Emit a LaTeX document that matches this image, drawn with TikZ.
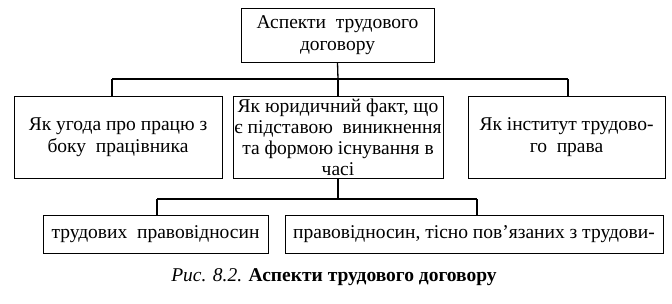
\documentclass[tikz,border=0pt]{standalone}
\usepackage{fontspec}
\setmainfont{Liberation Serif}
\usetikzlibrary{shadows}
\tikzset{
  box/.style={draw, fill=white, line width=0.9pt, inner sep=0pt, align=center,
    font=\fontsize{19.5}{22}\selectfont,
    drop shadow={shadow xshift=1.4pt, shadow yshift=-1.4pt, fill=black, opacity=1}},
  conn/.style={line width=1.3pt},
  bar/.style={line width=1.8pt}
}
\begin{document}
\begin{tikzpicture}[x=1pt,y=1pt]
\useasboundingbox (0,0) rectangle (672,-303);
\node[box, minimum width=193, minimum height=54] (top) at (337.5,-35) {Аспекти\enspace трудового\\договору};
\node[box, minimum width=208, minimum height=82] (left) at (118,-137) {Як угода про працю з\\боку\enspace працівника};
\node[box, minimum width=210, minimum height=82, font=\fontsize{19.5}{21}\selectfont] (mid) at (338,-137) {Як юридичний факт, що\\є підставою\enspace виникнення\\та формою існування в\\часі};
\node[box, minimum width=197, minimum height=82] (right) at (566.5,-137) {Як інститут трудово-\\го\enspace права};
\node[box, minimum width=225, minimum height=38] (bl) at (155.5,-234) {трудових\enspace правовідносин};
\node[box, minimum width=378, minimum height=38] (br) at (474,-234) {правовідносин, тісно пов’язаних з трудови-};
\node[font=\fontsize{19.5}{22}\selectfont, inner sep=0pt] (cap) at (334,-277) {\textit{Рис. 8.2.} \textbf{Аспекти трудового договору}};
\coordinate (b1l) at (112,-79);
\coordinate (b1r) at (568,-79);
\coordinate (b1m) at (338,-79);
\coordinate (b2l) at (157,-199);
\coordinate (b2r) at (477,-199);
\coordinate (b2m) at (338,-199);
\draw[bar] (b1l) -- (b1r);
\draw[conn] (top.south) -- (b1m);
\draw[conn] (b1l) -- (b1l |- left.north);
\draw[conn] (b1m) -- (mid.north);
\draw[conn] (b1r) -- (b1r |- right.north);
\draw[conn] (mid.south) -- (b2m);
\draw[conn] (b2l) -- (b2r);
\draw[conn] (b2l) -- (b2l |- bl.north);
\draw[conn] (b2r) -- (b2r |- br.north);
\end{tikzpicture}
\end{document}
